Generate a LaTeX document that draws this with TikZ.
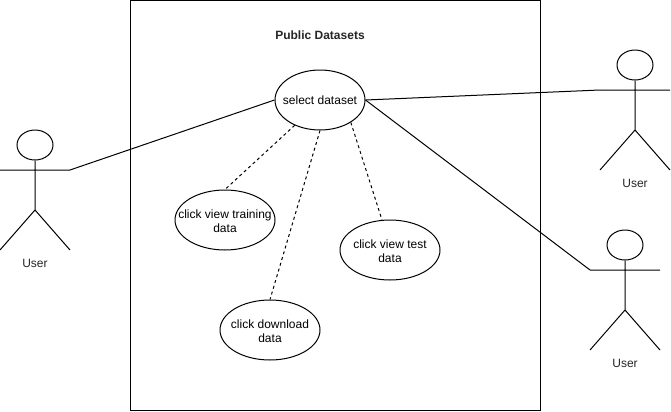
\documentclass[tikz,border=0pt]{standalone}
\usepackage{fontspec}
\usetikzlibrary{shapes.geometric}
\setmainfont{Liberation Sans}
\newcommand{\lowerfix}{\rule{0pt}{8pt}}
\begin{document}
\begin{tikzpicture}[x=0.75pt,y=-0.75pt,
  line/.style={draw=black,line width=0.75pt},
  usecase/.style={ellipse,line,minimum width=75pt,minimum height=45pt,inner xsep=-40pt,inner ysep=-20pt,align=center,font=\fontsize{9}{10.9}\selectfont},
  head/.style={ellipse,line,minimum width=27pt,minimum height=22.5pt,inner sep=0pt},
  lbl/.style={inner sep=0pt,font=\fontsize{9}{11.25}\selectfont,text=black!85},
  assoc/.style={line},
  dep/.style={line,dash pattern=on 2.25pt off 2.25pt}]
\useasboundingbox[fill=white] (0,0) rectangle (671,411);
\node[line,minimum width=307.5pt,minimum height=307.5pt,inner sep=0pt] (system) at (335,205.2) {};
\node[lbl,font=\fontsize{9}{11.25}\selectfont\bfseries] (title) at (320,35.5) {Public Datasets};
\node[usecase,minimum width=67.5pt] (select) at (320,100) {select dataset};
\node[usecase] (train) at (225,220) {\lowerfix click view training\\data};
\node[usecase] (test) at (390,250) {\lowerfix click view test\\data};
\node[usecase] (download) at (270,330) {\lowerfix click download\\data};
% left actor
\node[head] (h1) at (35,145) {};
\coordinate (a1l) at (0,170); \coordinate (a1r) at (70,170);
\coordinate (b1) at (35,210);
\coordinate (f1l) at (0,250); \coordinate (f1r) at (70,250);
\draw[line] (h1.south) -- (b1) (a1l) -- (a1r) (f1l) -- (b1) -- (f1r);
\node[lbl] (u1) at (35,263.5) {User};
% top right actor
\node[head] (h2) at (635,65) {};
\coordinate (a2l) at (600,90); \coordinate (a2r) at (670,90);
\coordinate (b2) at (635,130);
\coordinate (f2l) at (600,170); \coordinate (f2r) at (670,170);
\draw[line] (h2.south) -- (b2) (a2l) -- (a2r) (f2l) -- (b2) -- (f2r);
\node[lbl] (u2) at (635,183.5) {User};
% bottom right actor
\node[head] (h3) at (625,245) {};
\coordinate (a3l) at (590,270); \coordinate (a3r) at (660,270);
\coordinate (b3) at (625,310);
\coordinate (f3l) at (590,350); \coordinate (f3r) at (660,350);
\draw[line] (h3.south) -- (b3) (a3l) -- (a3r) (f3l) -- (b3) -- (f3r);
\node[lbl] (u3) at (625,363.5) {User};
% connectors
\coordinate (testtop) at (382,220);
\draw[assoc] (a1r) -- (select.west);
\draw[assoc] (select.east) -- (a2l);
\draw[assoc] (select.east) -- (a3l);
\draw[dep] (select.225) -- (train.north);
\draw[dep] (select.south) -- (download.north);
\draw[dep] (select.-36) -- (testtop);
\end{tikzpicture}
\end{document}
